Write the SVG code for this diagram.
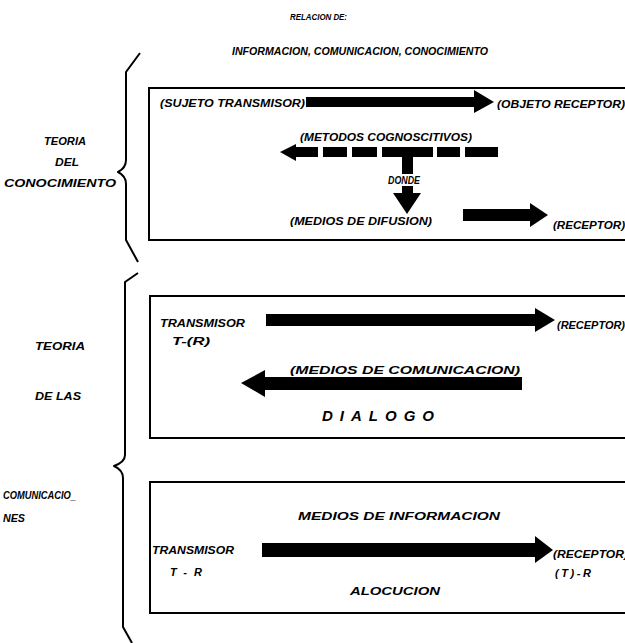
<svg xmlns="http://www.w3.org/2000/svg" width="625" height="643" viewBox="0 0 625 643">
<style>
text{font-family:"Liberation Sans",Arial,sans-serif;font-weight:bold;font-style:italic;fill:#000;font-size:11px}
.s{font-size:9px}
.box{fill:none;stroke:#000;stroke-width:2}
.brace{fill:none;stroke:#000;stroke-width:2;stroke-linejoin:round}
.ar{fill:#000;stroke:none}
.dlg{font-size:15px;letter-spacing:7px}
</style>
<rect width="625" height="643" fill="#fff"/>
<g id="title">
<text class="s" x="290" y="20" textLength="57" lengthAdjust="spacingAndGlyphs">RELACION DE:</text>
<text x="232" y="55" font-size="10" textLength="256" lengthAdjust="spacingAndGlyphs">INFORMACION, COMUNICACION, CONOCIMIENTO</text>
</g>
<g id="brace1">
<path class="brace" d="M140,53 L126,72 L126,160 Q126,168 118,172 Q126,176 126,184 L126,240 L138,262"/>
<text x="44" y="145" textLength="42" lengthAdjust="spacingAndGlyphs">TEORIA</text>
<text x="55" y="166" textLength="24" lengthAdjust="spacingAndGlyphs">DEL</text>
<text x="4" y="187" textLength="112" lengthAdjust="spacingAndGlyphs">CONOCIMIENTO</text>
</g>
<g id="box1">
<rect class="box" x="149" y="88" width="500" height="152"/>
<text x="160" y="107" textLength="145" lengthAdjust="spacingAndGlyphs">(SUJETO TRANSMISOR)</text>
<text x="497" y="108" textLength="128" lengthAdjust="spacingAndGlyphs">(OBJETO RECEPTOR)</text>
<text x="300" y="141" font-size="10" textLength="172" lengthAdjust="spacingAndGlyphs">(METODOS COGNOSCITIVOS)</text>
<text x="388" y="184" font-size="8" textLength="32" lengthAdjust="spacingAndGlyphs">DONDE</text>
<text x="290" y="225" textLength="142" lengthAdjust="spacingAndGlyphs">(MEDIOS DE DIFUSION)</text>
<text x="553" y="229" font-size="10" textLength="72" lengthAdjust="spacingAndGlyphs">(RECEPTOR)</text>
</g>
<g id="brace2">
<path class="brace" d="M138,273 L125,282 L125,455 Q125,462 114,466 Q123,470 123,478 L123,627 L132,643"/>
<text x="35" y="350" textLength="50" lengthAdjust="spacingAndGlyphs">TEORIA</text>
<text x="35" y="400" textLength="46" lengthAdjust="spacingAndGlyphs">DE LAS</text>
<text x="3" y="499" font-size="10" textLength="73" lengthAdjust="spacingAndGlyphs">COMUNICACIO_</text>
<text x="3" y="522" font-size="10" textLength="22" lengthAdjust="spacingAndGlyphs">NES</text>
</g>
<g id="box2">
<rect class="box" x="150" y="296" width="500" height="142"/>
<text x="160" y="327" font-size="10" textLength="85" lengthAdjust="spacingAndGlyphs">TRANSMISOR</text>
<text x="172" y="345" font-size="12" textLength="38" lengthAdjust="spacingAndGlyphs">T-(R)</text>
<text x="557" y="329" font-size="10" textLength="68" lengthAdjust="spacingAndGlyphs">(RECEPTOR)</text>
<text x="290" y="374" font-size="12" textLength="230" lengthAdjust="spacingAndGlyphs">(MEDIOS DE COMUNICACION)</text>
<text class="dlg" x="322" y="421">DIALOGO</text>
</g>
<g id="box3">
<rect class="box" x="150" y="482" width="500" height="131"/>
<text x="298" y="520" textLength="202" lengthAdjust="spacingAndGlyphs">MEDIOS DE INFORMACION</text>
<text x="152" y="554" font-size="10" textLength="82" lengthAdjust="spacingAndGlyphs">TRANSMISOR</text>
<text x="170" y="576" textLength="32" lengthAdjust="spacing">T-R</text>
<text x="553" y="558" textLength="75" lengthAdjust="spacingAndGlyphs">(RECEPTOR)</text>
<text x="555" y="577" textLength="36" lengthAdjust="spacing">(T)-R</text>
<text x="350" y="595" textLength="90" lengthAdjust="spacingAndGlyphs">ALOCUCION</text>
</g>
<g id="connectors">
<path class="ar" d="M306,97 L474,97 L474,90 L494,102 L474,113 L474,107 L306,107 Z"/>
<path class="ar" d="M280,152 L296,144 L296,161 Z"/>
<rect class="ar" x="296" y="147" width="22" height="10"/>
<rect class="ar" x="323" y="147" width="24" height="10"/>
<rect class="ar" x="352" y="147" width="25" height="10"/>
<rect class="ar" x="382" y="147" width="51" height="10"/>
<rect class="ar" x="437" y="147" width="23" height="10"/>
<rect class="ar" x="465" y="147" width="33" height="10"/>
<rect class="ar" x="402" y="157" width="11" height="17"/>
<rect class="ar" x="402" y="186" width="11" height="7"/>
<path class="ar" d="M393,193 L421,193 L407,214 Z"/>
<path class="ar" d="M463,209 L530,209 L530,203 L548,215 L530,227 L530,221 L463,221 Z"/>
<path class="ar" d="M266,314 L535,314 L535,308 L555,320 L535,332 L535,326 L266,326 Z"/>
<path class="ar" d="M241,383 L265,370 L265,377 L522,377 L522,390 L265,390 L265,397 Z"/>
<path class="ar" d="M262,543 L535,543 L535,536 L553,550 L535,563 L535,557 L262,557 Z"/>
</g>
</svg>
